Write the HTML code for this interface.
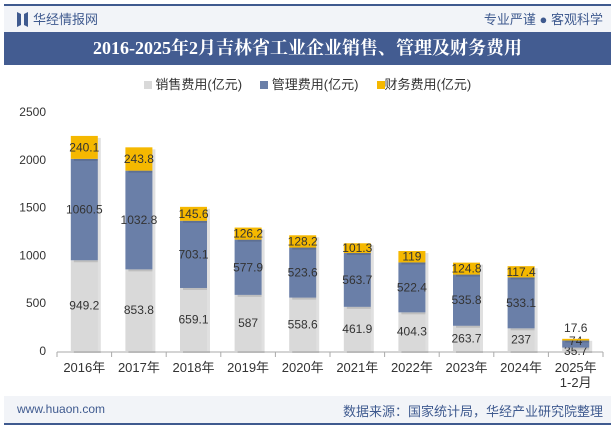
<!DOCTYPE html>
<html><head><meta charset="utf-8"><style>
body{margin:0;width:615px;height:427px;background:#fff;font-family:"Liberation Sans","Noto Sans CJK SC",sans-serif;overflow:hidden;position:relative}
.abs{position:absolute}
</style></head><body>
<div class="abs" style="left:4px;top:4px;width:607px;height:2px;background:#3f5a8f"></div>
<div class="abs" style="left:4px;top:6px;width:607px;height:26px;background:#f2f4f8"></div>
<svg class="abs" style="left:17px;top:12px" width="11" height="15"><polygon points="0,0 4,2 4,13 0,15" fill="#3f5a8f"/><polygon points="11,0 7,2 7,13 11,15" fill="#3f5a8f"/></svg>
<div class="abs" style="left:33px;top:9px;font-size:13px;color:#3f5a8f">华经情报网</div>
<div class="abs" style="right:12px;top:9px;font-size:13px;color:#3f5a8f">专业严谨 ● 客观科学</div>
<div class="abs" style="left:4px;top:32px;width:607px;height:33px;background:#435c91;color:#fff;font-family:'Liberation Serif','Noto Serif CJK SC',serif;font-weight:bold;font-size:18px;line-height:33px;text-align:center">2016-2025年2月吉林省工业企业销售、管理及财务费用</div>
<div class="abs" style="left:0;top:74px;width:615px;text-align:center;font-size:13px;color:#333">
<span><span style="display:inline-block;width:8px;height:8px;background:#d9d9d9"></span> 销售费用(亿元)</span>&nbsp;&nbsp;&nbsp;&nbsp;
<span><span style="display:inline-block;width:8px;height:8px;background:#6a7fa8"></span> 管理费用(亿元)</span>&nbsp;&nbsp;&nbsp;&nbsp;
<span><span style="display:inline-block;width:8px;height:8px;background:#f5b800"></span>财务费用(亿元)</span>
</div>
<svg class="abs" style="left:0;top:0" width="615" height="427" id="chart"></svg>
<div class="abs" style="left:4px;top:396px;width:607px;height:27px;background:#f2f4f8"></div>
<div class="abs" style="left:4px;top:423px;width:607px;height:2px;background:#3f5a8f"></div>
<div class="abs" style="left:17px;top:402px;font-size:12px;color:#3f5a8f">www.huaon.com</div>
<div class="abs" style="right:12px;top:401px;font-size:13px;color:#3f5a8f">数据来源：国家统计局，华经产业研究院整理</div>
<script>
const categories=["2016年","2017年","2018年","2019年","2020年","2021年","2022年","2023年","2024年","2025年\n1-2月"];
const sales=[949.2,853.8,659.1,587,558.6,461.9,404.3,263.7,237,35.7];
const management=[1060.5,1032.8,703.1,577.9,523.6,563.7,522.4,535.8,533.1,74];
const finance=[240.1,243.8,145.6,126.2,128.2,101.3,119,124.8,117.4,17.6];
const yTicks=[0,500,1000,1500,2000,2500];
const svg=document.getElementById('chart');const NS='http://www.w3.org/2000/svg';
const x0=57,x1=603,y0=351,yTop=112,yMax=2500;
const y=v=>y0-(v/yMax)*(y0-yTop);
const band=(x1-x0)/categories.length;
const xc=i=>x0+band*(i+0.5);
function mk(t,a,txt){const e=document.createElementNS(NS,t);for(const k in a)e.setAttribute(k,a[k]);if(txt!==undefined)e.textContent=txt;svg.appendChild(e);return e;}
yTicks.forEach(v=>{const t=mk('text',{x:46,y:y(v)+4,'text-anchor':'end','font-size':12,fill:'#333'},v);

});
const ax=mk('line',{x1:x0,x2:x1,y1:y0+1,y2:y0+1,stroke:'#aaa'});


for(let i=0;i<=categories.length;i++){const tk=mk('line',{x1:x0+band*i,x2:x0+band*i,y1:y0+1,y2:y0+6,stroke:'#aaa'});

}
const series=[[sales,'#d9d9d9','sales'],[management,'#6a7fa8','management'],[finance,'#f5b800','finance']];
const bw=27;
categories.forEach((c,i)=>{
 let base=0;
 series.forEach(([arr,col,nm],s)=>{
  const v=arr[i];const top=y(base+v),bot=y(base);
  const sh=mk('rect',{x:xc(i)-bw/2+3,y:top+2,width:bw,height:bot-top,fill:'#000',opacity:0.12});
  
  
  const r=mk('rect',{x:xc(i)-bw/2,y:top,width:bw,height:bot-top,fill:col});
  
  
  let ly=(top+bot)/2+4;
  if(i===categories.length-1){ly=[y0+4,y0-6,y0-19][s];}
  const t=mk('text',{x:xc(i),y:ly,'text-anchor':'middle','font-size':12,fill:'#333'},v);
  
  
  base+=v;
 });
 c.split('\n').forEach((ln,k)=>{const t=mk('text',{x:xc(i),y:372+k*15,'text-anchor':'middle','font-size':13,fill:'#333'},ln);
 
 });
});
</script>
</body></html>
